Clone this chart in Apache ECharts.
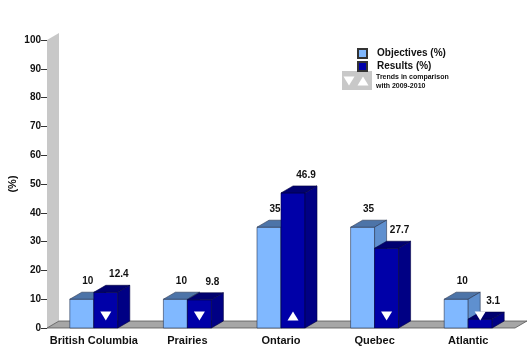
<!DOCTYPE html>
<html>
<head>
<meta charset="utf-8">
<script src="https://cdn.jsdelivr.net/npm/echarts@6/dist/echarts.min.js"></script>
<style>
html, body { margin: 0; padding: 0; background: #fff; }
#chart { width: 531px; height: 353px; }
</style>
</head>
<body>
<div id="chart"></div>
<script>
var regions = ['British Columbia', 'Prairies', 'Ontario', 'Quebec', 'Atlantic'];
var objectives = [10, 10, 35, 35, 10];
var results = [12.4, 9.8, 46.9, 27.7, 3.1];
var trends = ['down', 'down', 'up', 'down', 'down']; // vs 2009-2010

var DX = 12, DY = -7; // fake 3d depth
var BAR_W = 24;
var FONT = '"Liberation Sans", Arial, sans-serif';

var lightCol = { front: '#80b8ff', top: '#4d74a8', side: '#5f90cf', line: '#2a3550' };
var darkCol = { front: '#0000a8', top: '#000070', side: '#000084', line: '#000040' };

function triangle(cx, cy, w, h, dir) {
    if (dir == 'up') {
        return [[cx - w / 2, cy + h / 2], [cx + w / 2, cy + h / 2], [cx, cy - h / 2]];
    }
    return [[cx - w / 2, cy - h / 2], [cx + w / 2, cy - h / 2], [cx, cy + h / 2]];
}

function barRender(offset, col, labelDx, withTrend) {
    return function (params, api) {
        var idx = api.value(0);
        var val = api.value(1);
        var p0 = api.coord([idx, 0]);
        var p1 = api.coord([idx, val]);
        var x0 = p0[0] + offset, x1 = x0 + BAR_W;
        var yb = p0[1], yt = p1[1];
        var kids = [
            { type: 'polygon', shape: { points: [[x0, yb], [x1, yb], [x1, yt], [x0, yt]] },
              style: { fill: col.front, stroke: col.line, lineWidth: 0.6 } },
            { type: 'polygon', shape: { points: [[x0, yt], [x1, yt], [x1 + DX, yt + DY], [x0 + DX, yt + DY]] },
              style: { fill: col.top, stroke: col.line, lineWidth: 0.6 } },
            { type: 'polygon', shape: { points: [[x1, yb], [x1 + DX, yb + DY], [x1 + DX, yt + DY], [x1, yt]] },
              style: { fill: col.side, stroke: col.line, lineWidth: 0.6 } },
            { type: 'text', x: (x0 + x1) / 2 + labelDx, y: yt + DY - 11,
              style: { text: String(val), fill: '#111', font: 'bold 10px ' + FONT, align: 'center', verticalAlign: 'middle' } }
        ];
        if (withTrend) {
            kids.push({ type: 'polygon', shape: { points: triangle((x0 + x1) / 2, yb - 12, 11, 9, trends[idx]) },
                style: { fill: '#fff' } });
        }
        return { type: 'group', children: kids };
    };
}

function frameRender(params, api) {
    var cs = params.coordSys;
    var l = cs.x, r = cs.x + cs.width, b = cs.y + cs.height, t = cs.y;
    return {
        type: 'group',
        children: [
            { type: 'polygon', shape: { points: [[l, t], [l + DX, t + DY], [l + DX, b + DY], [l, b]] },
              style: { fill: '#c8c8c8' } },
            { type: 'polygon', shape: { points: [[l, b], [r, b], [r + DX, b + DY], [l + DX, b + DY]] },
              style: { fill: '#a6a6a6', stroke: '#555', lineWidth: 0.8 } }
        ]
    };
}

var myChart = echarts.init(document.getElementById('chart'));
var option = {
    animation: false,
    grid: { left: 47, right: 16, top: 40, bottom: 25, outerBoundsMode: 'none', containLabel: false },
    legend: {
        data: ['Objectives (%)', 'Results (%)'],
        orient: 'vertical',
        left: 352,
        top: 43,
        icon: 'rect',
        itemWidth: 9,
        itemHeight: 9,
        itemGap: 2,
        textStyle: { fontSize: 10, fontWeight: 'bold', color: '#111', fontFamily: FONT, padding: [0, 0, 0, 5] }
    },
    graphic: [
        { type: 'rect', left: 342, top: 71, shape: { width: 30, height: 19 }, style: { fill: '#c8c8c8' } },
        { type: 'polygon', shape: { points: triangle(349, 81, 11, 9, 'down') }, style: { fill: '#fff' } },
        { type: 'polygon', shape: { points: triangle(363, 81, 11, 9, 'up') }, style: { fill: '#fff' } },
        { type: 'text', left: 376, top: 73, style: { text: 'Trends in comparison\nwith 2009-2010', fill: '#111', font: 'bold 7px ' + FONT, lineHeight: 9 } }
    ],
    xAxis: {
        type: 'category',
        data: regions,
        axisLine: { show: false },
        axisTick: { show: false },
        axisLabel: { interval: 0, margin: 7, fontSize: 11, fontWeight: 'bold', color: '#111', fontFamily: FONT }
    },
    yAxis: {
        type: 'value',
        min: 0,
        max: 100,
        interval: 10,
        name: '(%)',
        nameLocation: 'middle',
        nameGap: 29,
        nameMoveOverlap: false,
        nameTextStyle: { fontSize: 11, fontWeight: 'bold', color: '#111', fontFamily: FONT },
        axisLine: { show: false },
        axisTick: { show: true, length: 6, lineStyle: { color: '#333' } },
        axisLabel: { margin: 6, fontSize: 10, fontWeight: 'bold', color: '#111', fontFamily: FONT },
        splitLine: { show: false }
    },
    series: [{
        name: 'frame',
        type: 'custom',
        silent: true,
        renderItem: frameRender,
        data: [[0, 0]],
        encode: { x: 0, y: 1 },
        z: 1
    }, {
        name: 'Objectives (%)',
        type: 'custom',
        renderItem: barRender(-BAR_W, lightCol, 6, false),
        itemStyle: { color: lightCol.front, borderColor: '#333', borderWidth: 1 },
        data: objectives.map(function (v, i) { return [i, v]; }),
        encode: { x: 0, y: 1 },
        z: 2
    }, {
        name: 'Results (%)',
        type: 'custom',
        renderItem: barRender(0, darkCol, 13, true),
        itemStyle: { color: darkCol.front, borderColor: '#333', borderWidth: 1 },
        data: results.map(function (v, i) { return [i, v]; }),
        encode: { x: 0, y: 1 },
        z: 3
    }]
};
myChart.setOption(option);
</script>
</body>
</html>
